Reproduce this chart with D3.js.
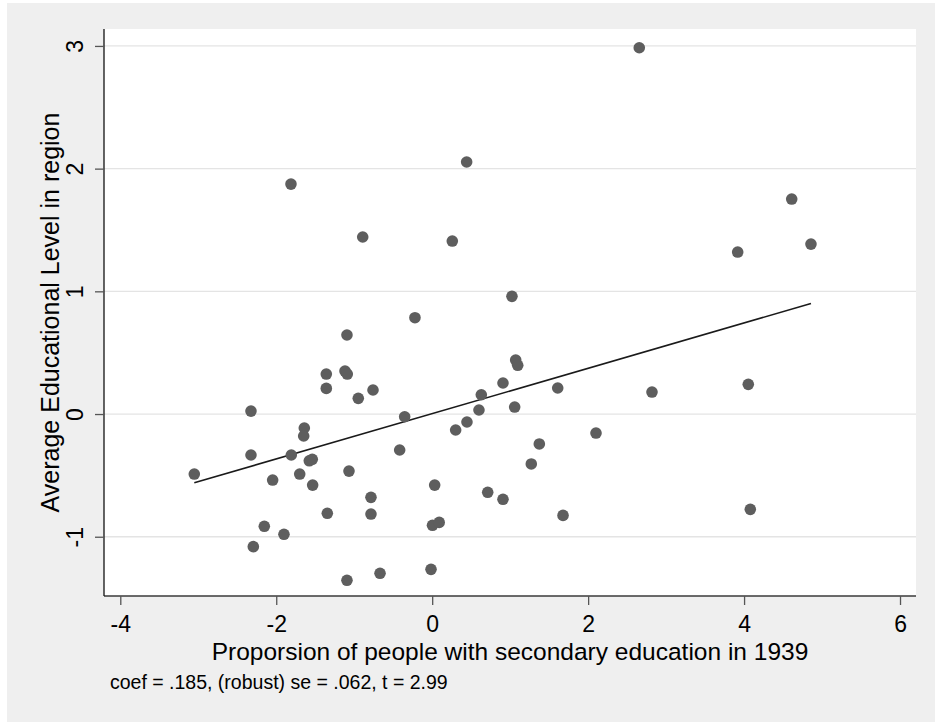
<!DOCTYPE html>
<html>
<head>
<meta charset="utf-8">
<script src="https://cdn.jsdelivr.net/npm/d3@7"></script>
<style>
  html, body { margin: 0; padding: 0; background: #ffffff; }
  text { font-family: "Liberation Sans", Arial, sans-serif; fill: #000; }
</style>
</head>
<body>
<svg id="chart" width="935" height="722"></svg>
<script>
// ---- data ----
const xValues = [2.656, 0.442, -1.811, -0.891, 0.258, 4.611, 3.918, 4.858, 1.023, -0.221,
  -1.093, -1.358, -1.118, -1.089, -1.358, -0.948, -0.759, -2.324, -0.353, -1.640,
  -1.648, -2.324, -1.807, -1.576, -1.538, -0.417, -3.051, -1.699, -2.046, -1.533,
  -1.067, 0.032, -0.785, -1.345, -0.785, 0.004, 0.090, -2.153, -1.901, -2.294,
  -0.015, -0.669, -1.093, 1.071, 1.097, 0.908, 0.630, 1.610, 2.819, 0.600,
  1.058, 0.446, 0.301, 2.101, 1.374, 1.271, 0.712, 0.908, 1.678, 4.054, 4.080];
const yValues = [2.985, 2.054, 1.874, 1.443, 1.410, 1.752, 1.320, 1.385, 0.959, 0.785,
  0.644, 0.326, 0.350, 0.326, 0.209, 0.128, 0.196, 0.024, -0.022, -0.114,
  -0.179, -0.334, -0.334, -0.381, -0.369, -0.293, -0.489, -0.489, -0.538, -0.579,
  -0.465, -0.579, -0.679, -0.809, -0.815, -0.907, -0.883, -0.915, -0.980, -1.081,
  -1.266, -1.298, -1.355, 0.440, 0.397, 0.253, 0.157, 0.212, 0.179, 0.033,
  0.057, -0.065, -0.130, -0.155, -0.244, -0.407, -0.638, -0.695, -0.826, 0.242, -0.777];
const fitX = [-3.051, 4.858];
const fitY = [-0.560, 0.901];
const xTicks = [-4, -2, 0, 2, 4, 6];
const yTicks = [-1, 0, 1, 2, 3];
const xTitle = "Proporsion of people with secondary education in 1939";
const yTitle = "Average Educational Level in region";
const noteText = "coef = .185, (robust) se = .062, t = 2.99";

// ---- layout ----
const plot = { left: 104, right: 916, top: 29, bottom: 596 };
const svg = d3.select("#chart");

svg.append("rect").attr("x", 7).attr("y", 3).attr("width", 928).attr("height", 719)
  .attr("fill", "#efefef");
svg.append("rect").attr("x", plot.left).attr("y", plot.top)
  .attr("width", plot.right - plot.left).attr("height", plot.bottom - plot.top)
  .attr("fill", "#ffffff");

const x = d3.scaleLinear().domain([-4.209, 6.205]).range([plot.left, plot.right]);
const y = d3.scaleLinear().domain([-1.483, 3.138]).range([plot.bottom, plot.top]);

// grid lines
svg.append("g").selectAll("line").data(yTicks).join("line")
  .attr("x1", plot.left).attr("x2", plot.right)
  .attr("y1", d => y(d)).attr("y2", d => y(d))
  .attr("stroke", "#e4e4e4").attr("stroke-width", 1.3);

// x axis
const xAxis = svg.append("g").attr("transform", `translate(0,${plot.bottom})`)
  .call(d3.axisBottom(x).tickValues(xTicks).tickSize(9).tickPadding(11)
    .tickFormat(d => d < 0 ? "-" + Math.abs(d) : d));
xAxis.select(".domain").attr("stroke", "#3a3a3a").attr("stroke-width", 1.3)
  .attr("d", `M${plot.left},0H${plot.right}`);
xAxis.selectAll(".tick line").attr("stroke", "#555").attr("stroke-width", 1.3);
xAxis.selectAll(".tick text").attr("font-size", 23).attr("fill", "#000")
  .attr("font-family", "Liberation Sans, Arial, sans-serif");

// y axis
const yAxis = svg.append("g").attr("transform", `translate(${plot.left},0)`)
  .call(d3.axisLeft(y).tickValues(yTicks).tickSize(9)
    .tickFormat(d => d < 0 ? "-" + Math.abs(d) : d));
yAxis.select(".domain").attr("stroke", "#111").attr("stroke-width", 1.3)
  .attr("d", `M0,${plot.top}V${plot.bottom}`);
yAxis.selectAll(".tick line").attr("stroke", "#555").attr("stroke-width", 1.3);
yAxis.selectAll(".tick text")
  .attr("font-size", 23).attr("fill", "#000")
  .attr("font-family", "Liberation Sans, Arial, sans-serif")
  .attr("x", null).attr("dy", null)
  .attr("text-anchor", "middle")
  .attr("transform", "translate(-21,0) rotate(-90)");

// fitted line
svg.append("line")
  .attr("x1", x(fitX[0])).attr("y1", y(fitY[0]))
  .attr("x2", x(fitX[1])).attr("y2", y(fitY[1]))
  .attr("stroke", "#1a1a1a").attr("stroke-width", 1.6);

// points
const pts = xValues.map((v, i) => ({ x: v, y: yValues[i] }));
svg.append("g").selectAll("circle").data(pts).join("circle")
  .attr("cx", d => x(d.x)).attr("cy", d => y(d.y)).attr("r", 5.8)
  .attr("fill", "#5e5e5e");

// titles
svg.append("text").attr("x", (plot.left + plot.right) / 2).attr("y", 660)
  .attr("text-anchor", "middle").attr("font-size", 24.5).text(xTitle);
svg.append("text")
  .attr("transform", `translate(59,${(plot.top + plot.bottom) / 2}) rotate(-90)`)
  .attr("text-anchor", "middle").attr("font-size", 25).text(yTitle);
svg.append("text").attr("x", 110).attr("y", 689)
  .attr("font-size", 19.5).text(noteText);
</script>
</body>
</html>
